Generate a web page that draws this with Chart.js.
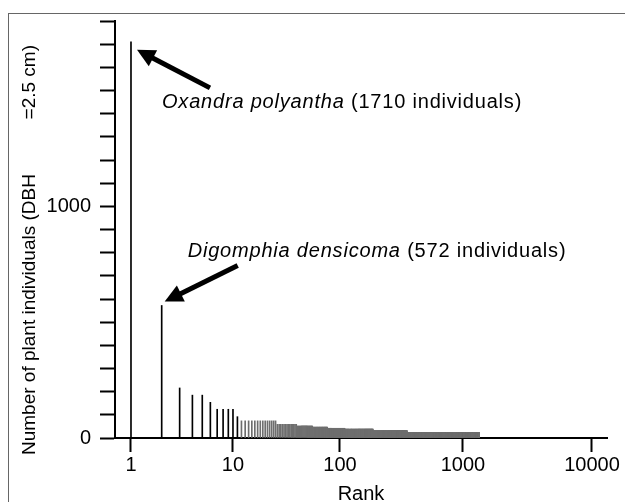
<!DOCTYPE html>
<html><head><meta charset="utf-8">
<script src="https://cdn.jsdelivr.net/npm/chart.js@4.4.1/dist/chart.umd.min.js"></script>
<style>html,body{margin:0;padding:0;background:#fff;}</style>
</head><body>
<canvas id="c" width="625" height="502"></canvas>
<script>
const FONT = '"Liberation Sans", Arial, Helvetica, sans-serif';

// ---- data ----
const topRanks  = [1, 2, 3, 4, 5, 6, 7, 8, 9, 10, 11];
const topCounts = [1710, 572, 216, 185, 185, 154, 124, 124, 124, 124, 92];
// plateaus of equal abundance in the long tail
const runFirstRank = [12, 26, 40, 56, 77, 110, 186, 351];
const runLastRank  = [25, 39, 55, 76, 109, 185, 350, 1330];
const runCount     = [74, 59, 52, 47, 42, 38, 31, 24];
const xTickValues = [1, 10, 100, 1000, 10000];
const yLabelValues = [0, 1000];
const noteSpecies = ['Oxandra polyantha', 'Digomphia densicoma'];
const noteText = ['(1710 individuals)', '(572 individuals)'];
const yTitleA = 'Number of plant individuals (DBH';
const yTitleB = '=2.5 cm)';
const xTitle = 'Rank';

const points = [];
topRanks.forEach((r, i) => points.push({x: r, y: topCounts[i]}));
runFirstRank.forEach((a, i) => { for (let r = a; r <= runLastRank[i]; r++) points.push({x: r, y: runCount[i]}); });

// ---- axis calibration: position of each decade along the (hand drawn) log axis ----
const decadeFrac = [0.0325, 0.2398, 0.4573, 0.7073, 0.9695];
function warp(L) {
  const n = decadeFrac.length;
  if (L <= 0) return decadeFrac[0] + L * (decadeFrac[1] - decadeFrac[0]);
  if (L >= n - 1) return decadeFrac[n-1] + (L - (n-1)) * (decadeFrac[n-1] - decadeFrac[n-2]);
  const i = Math.floor(L), t = L - i;
  return decadeFrac[i] + t * (decadeFrac[i+1] - decadeFrac[i]);
}
function unwarp(f) {
  const n = decadeFrac.length;
  if (f <= decadeFrac[0]) return (f - decadeFrac[0]) / (decadeFrac[1] - decadeFrac[0]);
  for (let i = 0; i < n - 1; i++) {
    if (f <= decadeFrac[i+1]) return i + (f - decadeFrac[i]) / (decadeFrac[i+1] - decadeFrac[i]);
  }
  return (n-1) + (f - decadeFrac[n-1]) / (decadeFrac[n-1] - decadeFrac[n-2]);
}
class WarpLogScale extends Chart.LogarithmicScale {
  getPixelForValue(value) {
    if (value == null || isNaN(value) || value <= 0) return this.getPixelForDecimal(0);
    return this.getPixelForDecimal(warp(Math.log10(value)));
  }
  getValueForPixel(pixel) { return Math.pow(10, unwarp(this.getDecimalForPixel(pixel))); }
}
WarpLogScale.id = 'warplog';
Chart.register(WarpLogScale);

function arrow(ctx, x0, y0, x1, y1) {
  const ang = Math.atan2(y1 - y0, x1 - x0), headLen = 18, headW = 9;
  const bx = x1 - headLen * Math.cos(ang), by = y1 - headLen * Math.sin(ang);
  ctx.beginPath(); ctx.lineWidth = 5; ctx.lineCap = 'butt';
  ctx.moveTo(x0, y0); ctx.lineTo(bx + 2*Math.cos(ang), by + 2*Math.sin(ang)); ctx.stroke();
  ctx.beginPath(); ctx.moveTo(x1, y1);
  ctx.lineTo(bx + headW * Math.sin(ang), by - headW * Math.cos(ang));
  ctx.lineTo(bx - headW * Math.sin(ang), by + headW * Math.cos(ang));
  ctx.closePath(); ctx.fill();
}

const decor = {
  id: 'decor',
  beforeDraw(chart) {
    const ctx = chart.ctx;
    ctx.save();
    ctx.fillStyle = '#fff'; ctx.fillRect(0, 0, chart.width, chart.height);
    ctx.strokeStyle = '#666'; ctx.lineWidth = 1;
    ctx.strokeRect(8.5, 13.5, 800, 800);
    ctx.restore();
  },
  afterDraw(chart) {
    const ctx = chart.ctx, xs = chart.scales.x, ys = chart.scales.y;
    ctx.save();
    ctx.fillStyle = '#000'; ctx.strokeStyle = '#000';
    // y axis title (rotated)
    ctx.save();
    ctx.translate(35, 0); ctx.rotate(-Math.PI / 2);
    ctx.font = '19px ' + FONT;
    ctx.textBaseline = 'alphabetic';
    ctx.textAlign = 'left'; ctx.fillText(yTitleA, -455, 0);
    ctx.textAlign = 'right'; ctx.fillText(yTitleB, -45, 0);
    ctx.restore();
    // annotations
    const offs = [
      {tip: [6, 8], tail: [79, 46], text: [31, 66]},
      {tip: [3, -4], tail: [76, -40], text: [26, -48.5]}
    ];
    [0, 1].forEach(i => {
      const px = xs.getPixelForValue(topRanks[i]), py = ys.getPixelForValue(topCounts[i]);
      const o = offs[i];
      arrow(ctx, px + o.tail[0], py + o.tail[1], px + o.tip[0], py + o.tip[1]);
      ctx.letterSpacing = '0.8px';
      ctx.textAlign = 'left'; ctx.textBaseline = 'alphabetic';
      ctx.font = 'italic 20px ' + FONT;
      const tx = px + o.text[0], ty = py + o.text[1];
      ctx.fillText(noteSpecies[i], tx, ty);
      const w = ctx.measureText(noteSpecies[i] + ' ').width;
      ctx.font = '20px ' + FONT;
      ctx.fillText(noteText[i], tx + w, ty);
      ctx.letterSpacing = '0px';
    });
    ctx.restore();
  }
};

const barColors = points.map(p => p.x <= topRanks.length ? '#000' : '#6e6e6e');

new Chart(document.getElementById('c'), {
  type: 'bar',
  data: { datasets: [{ data: points, backgroundColor: barColors, borderWidth: 0, barThickness: 1 }] },
  options: {
    responsive: false, animation: false, devicePixelRatio: 1,
    layout: { padding: { left: 0, right: 18, top: 21, bottom: 0 } },
    plugins: { legend: { display: false }, tooltip: { enabled: false } },
    scales: {
      x: {
        type: 'warplog', min: 0.7, max: 13000, offset: false,
        afterBuildTicks: s => { s.ticks = xTickValues.map(v => ({ value: v })); },
        afterFit: s => { s.height = 64; },
        grid: { offset: false, drawOnChartArea: false, drawTicks: true, tickLength: 14, tickWidth: 2, tickColor: '#000' },
        border: { display: true, color: '#000', width: 2 },
        ticks: { font: { family: FONT, size: 20 }, color: '#000', padding: 1, maxRotation: 0, autoSkip: false, callback: v => String(v) },
        title: { display: true, text: xTitle, color: '#000', font: { family: FONT, size: 20, lineHeight: 0.8 }, padding: { top: 0, bottom: 0 } }
      },
      y: {
        type: 'linear', min: 0, max: 1800,
        afterFit: s => { s.width = 115; },
        grid: { drawOnChartArea: false, drawTicks: true, tickLength: 15, tickWidth: 2, tickColor: '#000' },
        border: { display: true, color: '#000', width: 2 },
        ticks: { stepSize: 100, autoSkip: false, padding: 9, font: { family: FONT, size: 20 }, color: '#000',
                 callback: v => yLabelValues.includes(v) ? String(v) : '' }
      }
    }
  },
  plugins: [decor]
});
</script>
</body></html>
